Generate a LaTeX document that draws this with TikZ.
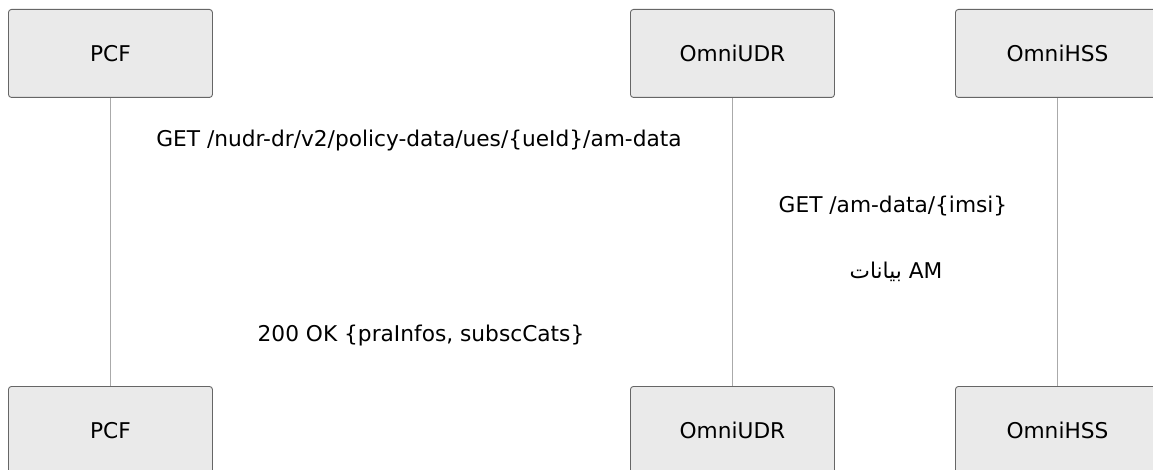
\documentclass[tikz,border=0pt]{standalone}
\usepackage{fontspec}
\setmainfont{DejaVu Sans}
\newfontfamily\arabicfont[Script=Arabic]{DejaVu Sans}
\TeXXeTstate=1
\definecolor{boxfill}{HTML}{EAEAEA}
\definecolor{boxdraw}{HTML}{666666}
\definecolor{lifeline}{HTML}{AAAAAA}
\begin{document}
\begin{tikzpicture}[x=1pt,y=-1pt,
  actor/.style={draw=boxdraw,fill=boxfill,rounded corners=3pt,line width=0.9pt,minimum width=204pt,minimum height=88pt,inner sep=0pt,font=\fontsize{21.7pt}{26pt}\selectfont,anchor=north west},
  msg/.style={font=\fontsize{21.7pt}{26pt}\selectfont,inner sep=0pt},
  life/.style={draw=lifeline,line width=0.9pt}]
\useasboundingbox (0,0) rectangle (1153,470);
\node[actor] (pcfT) at (8,9) {PCF};
\node[actor] (udrT) at (630,9) {OmniUDR};
\node[actor] (hssT) at (955,9) {OmniHSS};
\node[actor] (pcfB) at (8,386) {PCF};
\node[actor] (udrB) at (630,386) {OmniUDR};
\node[actor] (hssB) at (955,386) {OmniHSS};
\draw[life] (pcfT.south) -- (pcfB.north);
\draw[life] (udrT.south) -- (udrB.north);
\draw[life] (hssT.south) -- (hssB.north);
\node[msg] (m1) at (419,141) {GET /nudr-dr/v2/policy-data/ues/\{ueId\}/am-data};
\node[msg] (m2) at (893,206) {GET /am-data/\{imsi\}};
\node[msg] (m3) at (896,272) {{\arabicfont\beginR بيانات\endR} AM};
\node[msg] (m4) at (421,336) {200 OK \{praInfos, subscCats\}};
\end{tikzpicture}
\end{document}
